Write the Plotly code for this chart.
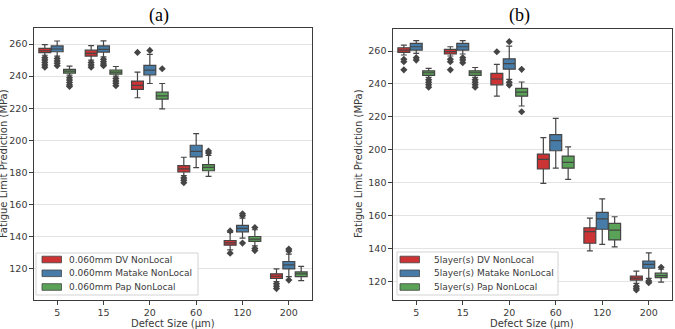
import plotly.graph_objects as go

categories = ["5", "15", "20", "60", "120", "200"]

# ---------------- panel (a) : 0.060mm ----------------
names_a = ["0.060mm DV NonLocal", "0.060mm Matake NonLocal", "0.060mm Pap NonLocal"]

dv_a_q1 = [254.6, 252.5, 231.7, 180.2, 134.6, 113.8]
dv_a_med = [255.8, 254.2, 234.2, 182.1, 136.0, 115.2]
dv_a_q3 = [257.3, 256.2, 236.9, 184.2, 137.5, 116.7]
dv_a_lo = [253.0, 250.0, 226.5, 178.0, 131.7, 111.9]
dv_a_hi = [259.6, 259.0, 242.5, 189.4, 142.5, 119.8]
dv_a_out = [[251.5, 250, 248.5, 247, 245.5], [248.5, 247, 245.5], [254.8],
            [176.5, 175, 173.5], [143.5, 129.6], [110.5, 109, 107.5]]

mt_a_q1 = [255.2, 255.0, 240.8, 189.6, 142.9, 119.8]
mt_a_med = [256.9, 256.7, 243.7, 193.1, 145.0, 122.3]
mt_a_q3 = [258.8, 258.8, 246.7, 196.9, 146.9, 124.4]
mt_a_lo = [252.5, 252.0, 235.4, 183.0, 139.0, 115.0]
mt_a_hi = [261.9, 262.0, 253.5, 204.2, 151.5, 129.0]
mt_a_out = [[251, 249.5, 248, 246.5], [250.5, 249, 247.5, 246.5], [256.0],
            [], [153, 154.2, 135.9], [131, 132.2, 112.8]]

pp_a_q1 = [241.9, 241.3, 225.6, 181.0, 136.9, 115.0]
pp_a_med = [243.1, 242.5, 227.7, 183.1, 138.4, 116.7]
pp_a_q3 = [244.2, 243.8, 230.0, 184.8, 140.0, 117.9]
pp_a_lo = [240.6, 240.0, 219.6, 177.5, 134.2, 112.5]
pp_a_hi = [246.2, 246.0, 235.4, 190.5, 144.2, 121.4]
pp_a_out = [[239, 237.5, 236, 234.5, 233.5], [238.5, 237, 235.5, 234], [244.6],
            [192, 193.3], [145.6, 132.5, 131.2], []]

# ---------------- panel (b) : 5layer(s) ----------------
names_b = ["5layer(s) DV NonLocal", "5layer(s) Matake NonLocal", "5layer(s) Pap NonLocal"]

dv_b_q1 = [259.2, 258.2, 239.5, 188.3, 143.2, 120.8]
dv_b_med = [260.6, 259.6, 243.0, 194.2, 150.2, 122.0]
dv_b_q3 = [262.0, 261.0, 246.4, 197.4, 152.6, 123.3]
dv_b_lo = [257.6, 257.0, 232.6, 179.6, 138.5, 118.8]
dv_b_hi = [263.6, 262.6, 251.9, 207.4, 158.4, 126.3]
dv_b_out = [[255, 253.5, 248.6], [255, 253.5, 248.6], [259.6], [], [], [117, 115.8, 114.8]]

mt_b_q1 = [260.6, 260.6, 249.0, 199.4, 151.7, 128.0]
mt_b_med = [262.6, 262.6, 252.3, 205.5, 158.0, 130.4]
mt_b_q3 = [264.7, 264.7, 255.3, 209.2, 162.0, 132.4]
mt_b_lo = [258.6, 258.2, 242.8, 188.8, 142.5, 121.9]
mt_b_hi = [266.3, 266.3, 263.0, 219.1, 170.1, 137.4]
mt_b_out = [[256, 254.5], [256, 254.5, 252.9], [265.7, 241, 239.3], [], [], [120.3, 119.2]]

pp_b_q1 = [245.2, 245.2, 232.6, 188.8, 145.2, 122.3]
pp_b_med = [246.8, 246.8, 235.0, 192.3, 151.2, 123.5]
pp_b_q3 = [248.0, 248.0, 237.3, 196.2, 155.3, 125.0]
pp_b_lo = [244.0, 244.0, 226.6, 182.0, 141.0, 119.6]
pp_b_hi = [249.5, 250.0, 241.2, 201.8, 159.3, 127.4]
pp_b_out = [[242.5, 241, 239.5, 238], [242.5, 241, 239.5, 238], [248.9, 223.1], [], [], [128.6]]

colors = ["#cb3335", "#477ca8", "#59a257"]
line_col = "#454545"
txt_col = "#3a3a3a"
W, H = 675, 329

fig = go.Figure()

panels = [
    ("x", "y", names_a,
     [(dv_a_q1, dv_a_med, dv_a_q3, dv_a_lo, dv_a_hi, dv_a_out),
      (mt_a_q1, mt_a_med, mt_a_q3, mt_a_lo, mt_a_hi, mt_a_out),
      (pp_a_q1, pp_a_med, pp_a_q3, pp_a_lo, pp_a_hi, pp_a_out)]),
    ("x2", "y2", names_b,
     [(dv_b_q1, dv_b_med, dv_b_q3, dv_b_lo, dv_b_hi, dv_b_out),
      (mt_b_q1, mt_b_med, mt_b_q3, mt_b_lo, mt_b_hi, mt_b_out),
      (pp_b_q1, pp_b_med, pp_b_q3, pp_b_lo, pp_b_hi, pp_b_out)]),
]

for xa, ya, names, series in panels:
    for k, (q1, med, q3, lo, hi, out) in enumerate(series):
        fig.add_trace(go.Box(
            x=categories, q1=q1, median=med, q3=q3,
            lowerfence=lo, upperfence=hi, y=out,
            name=names[k], xaxis=xa, yaxis=ya, showlegend=False,
            offsetgroup=str(k),
            fillcolor=colors[k],
            line=dict(color=line_col, width=1.2),
            whiskerwidth=0.5,
            boxpoints="outliers", jitter=0, pointpos=0,
            marker=dict(symbol="diamond", size=5.5, color=line_col,
                        line=dict(width=0)),
        ))

axis_common = dict(
    showline=True, mirror=True, linecolor="#3c3c3c", linewidth=1.3,
    ticks="outside", ticklen=3.5, tickcolor="#3c3c3c", tickwidth=1,
    tickfont=dict(family="DejaVu Sans", size=9.5, color=txt_col),
    zeroline=False,
)

# ---- compact matplotlib-style legends (frame, swatches, labels) ----
shapes = []
annotations = []
legend_specs = [
    # (frame left, frame right, frame top, frame bottom, swatch left, text left, names)
    (36, 198, 253, 295, 42, 67, names_a),
    (397, 558, 252, 295, 400, 432, names_b),
]
row_y = [259.5, 273.3, 287.0]
for fl, fr, ft, fb, sl, tl, names in legend_specs:
    shapes.append(dict(type="rect", xref="paper", yref="paper",
                       x0=fl / W, x1=fr / W, y0=1 - fb / H, y1=1 - ft / H,
                       line=dict(color="#d3d3d3", width=1), fillcolor="white",
                       layer="above"))
    for k, nm in enumerate(names):
        yc = row_y[k]
        shapes.append(dict(type="rect", xref="paper", yref="paper",
                           x0=sl / W, x1=(sl + 19.5) / W,
                           y0=1 - (yc + 3.3) / H, y1=1 - (yc - 3.3) / H,
                           line=dict(color=line_col, width=0.8),
                           fillcolor=colors[k], layer="above"))
        annotations.append(dict(text=nm, x=tl / W, y=1 - yc / H,
                                xref="paper", yref="paper", showarrow=False,
                                xanchor="left", yanchor="middle",
                                font=dict(family="DejaVu Sans", size=9, color=txt_col)))

annotations += [
    dict(text="(a)", x=159 / W, y=1 - 15 / H, xref="paper", yref="paper",
         showarrow=False, xanchor="center", yanchor="middle",
         font=dict(family="Liberation Serif", size=18, color="black")),
    dict(text="(b)", x=519 / W, y=1 - 15 / H, xref="paper", yref="paper",
         showarrow=False, xanchor="center", yanchor="middle",
         font=dict(family="Liberation Serif", size=18, color="black")),
    dict(text="Defect Size (μm)", x=173 / W, y=1 - 323.5 / H,
         xref="paper", yref="paper", showarrow=False,
         xanchor="center", yanchor="middle",
         font=dict(family="DejaVu Sans", size=10, color=txt_col)),
    dict(text="Defect Size (μm)", x=532 / W, y=1 - 323.5 / H,
         xref="paper", yref="paper", showarrow=False,
         xanchor="center", yanchor="middle",
         font=dict(family="DejaVu Sans", size=10, color=txt_col)),
    dict(text="Fatigue Limit Prediction (MPa)", x=3 / W, y=1 - 164 / H,
         xref="paper", yref="paper", showarrow=False, textangle=-90,
         xanchor="center", yanchor="middle",
         font=dict(family="DejaVu Sans", size=10, color=txt_col)),
    dict(text="Fatigue Limit Prediction (MPa)", x=358 / W, y=1 - 164 / H,
         xref="paper", yref="paper", showarrow=False, textangle=-90,
         xanchor="center", yanchor="middle",
         font=dict(family="DejaVu Sans", size=10, color=txt_col)),
]

fig.update_layout(
    width=W, height=H,
    margin=dict(l=0, r=0, t=0, b=0),
    paper_bgcolor="white", plot_bgcolor="white",
    showlegend=False,
    boxmode="group", boxgap=0.2, boxgroupgap=0.04,
    xaxis=dict(domain=[34 / W, 312 / W], anchor="y", type="category",
               range=[-0.5, 5.5], showgrid=False, **axis_common),
    yaxis=dict(domain=[1 - 300 / H, 1 - 28 / H], anchor="x",
               range=[100.4, 270], dtick=20, showgrid=True,
               gridcolor="#e3e3e3", gridwidth=1, **axis_common),
    xaxis2=dict(domain=[393 / W, 672 / W], anchor="y2", type="category",
                range=[-0.5, 5.5], showgrid=False, **axis_common),
    yaxis2=dict(domain=[1 - 300 / H, 1 - 29 / H], anchor="x2",
                range=[108.7, 273.4], dtick=20, showgrid=True,
                gridcolor="#e3e3e3", gridwidth=1, **axis_common),
    shapes=shapes,
    annotations=annotations,
)

fig.write_html("out.html")
